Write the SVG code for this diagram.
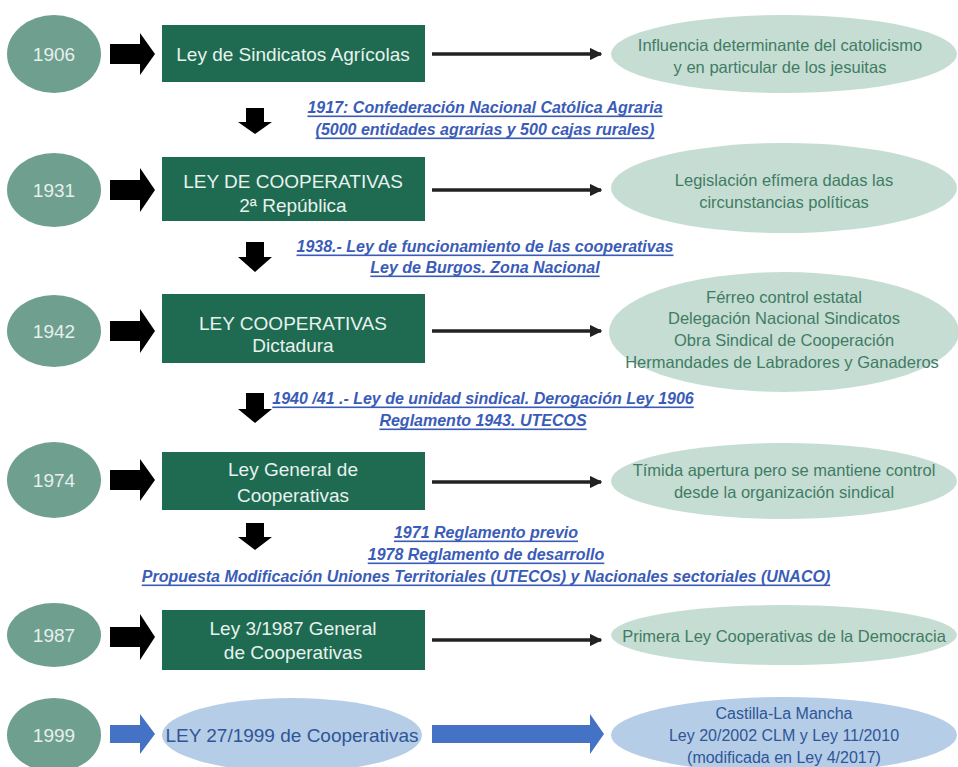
<svg xmlns="http://www.w3.org/2000/svg" width="958" height="767" viewBox="0 0 958 767">
<defs>
<style>
text{font-family:"Liberation Sans",Arial,sans-serif;text-anchor:middle;dominant-baseline:central}
.yr{fill:#6f9f8f}
.yt{fill:#e6f0ec;font-size:19px}
.box{fill:#1e6b51}
.bt{fill:#e8f2ee;font-size:19px}
.res{fill:#c6ddd4}
.rt{fill:#3f7c63;font-size:16.5px}
.note{fill:#3a5cb8;font-size:16px;font-weight:bold;font-style:italic;text-decoration:underline}
.blk{fill:#000}
.thin{stroke:#222;stroke-width:3.5;fill:none}
.bl{fill:#4472c4}
.bov{fill:#b5cde6}
.bovt{fill:#2f5597;font-size:19px}
.bovt2{fill:#2f5597;font-size:16px}
</style>
<marker id="ah" viewBox="0 0 10 10" refX="9" refY="5" markerWidth="3.6" markerHeight="3.6" orient="auto" markerUnits="strokeWidth">
<path d="M0,0 L10,5 L0,10 z" fill="#222"/>
</marker>
</defs>

<g id="connectors">
<path class="blk" d="M110,44 H140 V33 L155,54 L140,75 V64 H110 z"/>
<path class="blk" d="M110,180 H140 V168 L155,190 L140,212 V200 H110 z"/>
<path class="blk" d="M110,321 H140 V309 L155,331 L140,353 V341 H110 z"/>
<path class="blk" d="M110,470 H140 V459 L155,480 L140,501 V490 H110 z"/>
<path class="blk" d="M110,627 H140 V614 L155,637 L140,660 V647 H110 z"/>
<path class="bl" d="M110,725 H140 V714 L155,734 L140,754 V743 H110 z"/>
<line class="thin" x1="432" y1="54" x2="601" y2="54" marker-end="url(#ah)"/>
<line class="thin" x1="432" y1="190" x2="601" y2="190" marker-end="url(#ah)"/>
<line class="thin" x1="432" y1="331" x2="601" y2="331" marker-end="url(#ah)"/>
<line class="thin" x1="432" y1="482" x2="601" y2="482" marker-end="url(#ah)"/>
<line class="thin" x1="432" y1="640" x2="601" y2="640" marker-end="url(#ah)"/>
<path class="bl" d="M432,725 H590 V714 L604,734 L590,754 V743 H432 z"/>
<path class="blk" d="M246,108 H264 V122 H272 L255,134 L238,122 H246 z"/>
<path class="blk" d="M246,242 H264 V257 H272 L255,272 L238,257 H246 z"/>
<path class="blk" d="M246,393 H264 V409 H272 L255,423 L238,409 H246 z"/>
<path class="blk" d="M246,523 H264 V537 H272 L255,550 L238,537 H246 z"/>
</g>

<g id="notes">
<text class="note" x="485" y="107">1917: Confederación Nacional Católica Agraria</text>
<text class="note" x="485" y="129">(5000 entidades agrarias y 500 cajas rurales)</text>
<text class="note" x="485" y="246">1938.- Ley de funcionamiento de las cooperativas</text>
<text class="note" x="485" y="267">Ley de Burgos. Zona Nacional</text>
<text class="note" x="483" y="398">1940 /41 .- Ley de unidad sindical. Derogación Ley 1906</text>
<text class="note" x="483" y="420">Reglamento 1943. UTECOS</text>
<text class="note" x="486" y="532">1971 Reglamento previo</text>
<text class="note" x="486" y="554">1978 Reglamento de desarrollo</text>
<text class="note" x="486" y="576">Propuesta Modificación Uniones Territoriales (UTECOs) y Nacionales sectoriales (UNACO)</text>
</g>

<g id="y1906"><ellipse class="yr" cx="54" cy="54" rx="47" ry="39"/><text class="yt" x="54" y="54">1906</text></g>
<g id="y1931"><ellipse class="yr" cx="54" cy="190" rx="47" ry="37"/><text class="yt" x="54" y="190">1931</text></g>
<g id="y1942"><ellipse class="yr" cx="54" cy="331" rx="47" ry="36"/><text class="yt" x="54" y="331">1942</text></g>
<g id="y1974"><ellipse class="yr" cx="54" cy="480" rx="47" ry="38"/><text class="yt" x="54" y="480">1974</text></g>
<g id="y1987"><ellipse class="yr" cx="54" cy="635" rx="47" ry="32"/><text class="yt" x="54" y="635">1987</text></g>
<g id="y1999"><ellipse class="yr" cx="54" cy="735" rx="47" ry="37"/><text class="yt" x="54" y="735">1999</text></g>

<g id="law1906"><rect class="box" x="162" y="25" width="263" height="57"/><text class="bt" x="293" y="54">Ley de Sindicatos Agrícolas</text></g>
<g id="law1931"><rect class="box" x="162" y="157" width="263" height="64"/><text class="bt" x="293" y="181">LEY DE COOPERATIVAS</text><text class="bt" x="293" y="205">2ª República</text></g>
<g id="law1942"><rect class="box" x="162" y="294" width="263" height="69"/><text class="bt" x="293" y="323">LEY COOPERATIVAS</text><text class="bt" x="293" y="345">Dictadura</text></g>
<g id="law1974"><rect class="box" x="162" y="452" width="263" height="58"/><text class="bt" x="293" y="469">Ley General de</text><text class="bt" x="293" y="495">Cooperativas</text></g>
<g id="law1987"><rect class="box" x="162" y="610" width="263" height="60"/><text class="bt" x="293" y="628">Ley 3/1987 General</text><text class="bt" x="293" y="652">de Cooperativas</text></g>
<g id="law1999"><ellipse class="bov" cx="292" cy="735" rx="130" ry="37"/><text class="bovt" x="292" y="735">LEY 27/1999 de Cooperativas</text></g>

<g id="res1906"><ellipse class="res" cx="784" cy="54" rx="173" ry="39"/><text class="rt" x="780" y="45">Influencia determinante del catolicismo</text><text class="rt" x="780" y="67">y en particular de los jesuitas</text></g>
<g id="res1931"><ellipse class="res" cx="784" cy="188" rx="173" ry="45"/><text class="rt" x="784" y="180">Legislación efímera dadas las</text><text class="rt" x="784" y="202">circunstancias políticas</text></g>
<g id="res1942"><ellipse class="res" cx="784" cy="332" rx="175" ry="60"/><text class="rt" x="784" y="297">Férreo control estatal</text><text class="rt" x="784" y="318">Delegación Nacional Sindicatos</text><text class="rt" x="784" y="340">Obra Sindical de Cooperación</text><text class="rt" x="782" y="362">Hermandades de Labradores y Ganaderos</text></g>
<g id="res1974"><ellipse class="res" cx="784" cy="481" rx="173" ry="38"/><text class="rt" x="784" y="470">Tímida apertura pero se mantiene control</text><text class="rt" x="784" y="492">desde la organización sindical</text></g>
<g id="res1987"><ellipse class="res" cx="784" cy="635" rx="173" ry="30"/><text class="rt" x="784" y="636">Primera Ley Cooperativas de la Democracia</text></g>
<g id="res1999"><ellipse class="bov" cx="784" cy="735" rx="173" ry="38"/><text class="bovt2" x="784" y="713">Castilla-La Mancha</text><text class="bovt2" x="784" y="735">Ley 20/2002 CLM y Ley 11/2010</text><text class="bovt2" x="784" y="757">(modificada en Ley 4/2017)</text></g>
</svg>
